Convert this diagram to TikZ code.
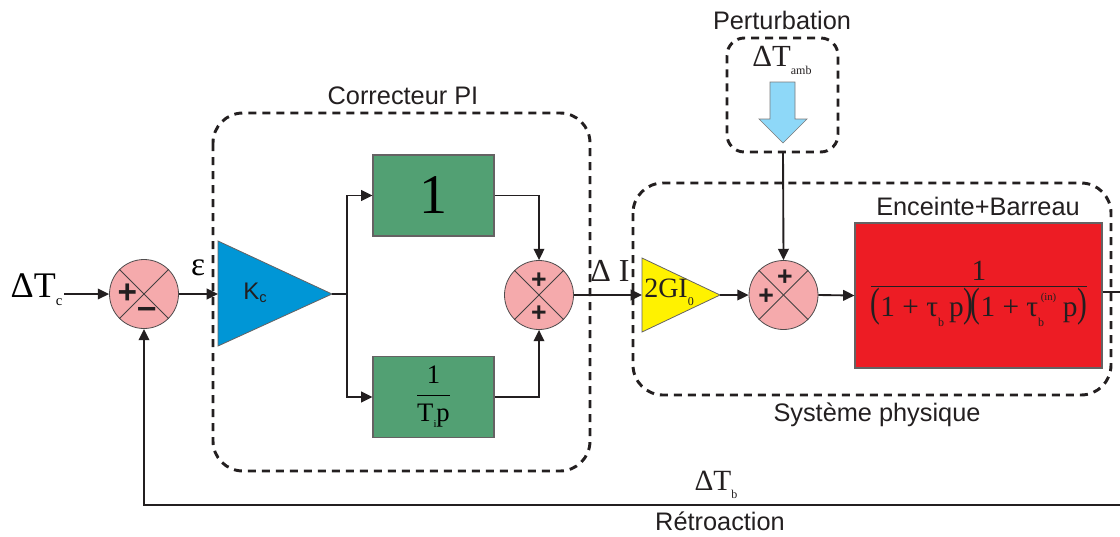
\documentclass[tikz,border=0pt]{standalone}
\usepackage{fontspec}
\usepackage{graphicx}
\setmainfont{Liberation Sans}
\newfontfamily\ser{Liberation Serif}
\usetikzlibrary{arrows.meta}
\definecolor{sumpink}{RGB}{245,170,172}
\definecolor{kblue}{RGB}{0,150,214}
\definecolor{pgreen}{RGB}{82,160,115}
\definecolor{ayellow}{RGB}{255,242,0}
\definecolor{pred}{RGB}{237,28,36}
\definecolor{lblue}{RGB}{142,216,248}
\definecolor{ink}{RGB}{35,31,32}
\newcommand\fs[1]{\fontsize{#1}{#1}\selectfont}
\newcommand\lowsub[3]{\raisebox{-#1}{\fs{#2}#3}}
\begin{document}
\begin{tikzpicture}[x=0.75pt,y=-0.75pt,
  conn/.style={line width=1.4pt, draw=ink},
  arr/.style={conn,-{Triangle[length=8.5pt,width=8pt]}},
  sumc/.style={circle,draw=ink!80,line width=0.6pt,fill=sumpink,minimum size=51.75pt,inner sep=0pt},
  dbox/.style={draw=ink,line width=2.2pt,dash pattern=on 6pt off 4.5pt},
  blk/.style={draw=ink!70,line width=0.8pt,inner sep=0pt},
  lab/.style={font=\fs{19}, text=ink},
  sgn/.style={font=\bfseries\fs{20}, text=ink, inner sep=0pt},
  xl/.style={draw=ink!85,line width=0.6pt}
]
\useasboundingbox (0,0) rectangle (1120,536);

% dashed groups
\draw[dbox,rounded corners=22.5pt] (213,113) rectangle (590,471);
\draw[dbox,rounded corners=22.5pt] (633,183) rectangle (1111,395);
\draw[dbox,rounded corners=13pt] (727,38) rectangle (838,152);

% labels
\node[lab] (lcor) at (403,96) {Correcteur PI};
\node[lab] (lper) at (782,20) {Perturbation};
\node[lab] (lenc) at (978,206) {Enceinte+Barreau};
\node[lab] (lsys) at (877,415) {Système physique};
\node[lab] (lret) at (720,521) {Rétroaction};

% sum junctions
\node[sumc] (s1) at (144,294) {};
\node[sumc] (s2) at (539,295) {};
\node[sumc] (s3) at (783.5,295) {};
\foreach \s in {s1,s2,s3}{
  \draw[xl] (\s.north west) -- (\s.south east);
  \draw[xl] (\s.north east) -- (\s.south west);
}
\node[sgn,font=\bfseries\fs{25}] (p1) at ([xshift=-12.5pt]s1.center) {+};
\node[sgn,font=\bfseries\fs{26}] (m1) at ([xshift=2pt,yshift=-14.5pt]s1.center) {–};
\node[sgn] (p2a) at ([yshift=11pt]s2.center) {+};
\node[sgn] (p2b) at ([yshift=-14pt]s2.center) {+};
\node[sgn] (p3a) at ([xshift=1pt,yshift=13pt]s3.center) {+};
\node[sgn] (p3b) at ([xshift=-13pt,yshift=-1pt]s3.center) {+};

% input
\node[font=\ser\fs{27},anchor=east,inner sep=1pt] (dtc) at (64,290) {ΔT\lowsub{6pt}{11}{c}};
\draw[arr] (dtc.east |- s1) -- (s1.west);
\node[font=\ser\fs{25}] (eps) at (198,268) {ε};

% Kc gain
\draw[fill=kblue,draw=ink!70,line width=0.6pt] (218,241) -- (332,294) -- (218,346) -- cycle;
\coordinate (kin) at (218,294);
\coordinate (kout) at (332,294);
\node[font=\fs{18},text=ink] (kc) at (255,293) {K\lowsub{2pt}{11}{c}};
\draw[arr] (s1.east) -- (kin);

% PI branches
\node[blk,fill=pgreen,minimum width=90.75pt,minimum height=60.75pt] (b1) at (433.5,195.5)
  {\ser\fs{42}1};
\node[blk,fill=pgreen,minimum width=90.75pt,minimum height=60.75pt] (b2) at (433.5,397)
  {\ser\fs{20}$\displaystyle\frac{\hbox{\ser\fs{20}1}}{\hbox{\ser\fs{20}T\lowsub{5pt}{8}{i}p}}$};
\coordinate (sp) at (347,294);
\draw[conn] (kout) -- (sp);
\draw[arr] (sp) |- (b1.west);
\draw[arr] (sp) |- (b2.west);
\draw[arr] (b1.east) -| (s2.north);
\draw[arr] (b2.east) -| (s2.south);

% 2GI0 gain
\draw[fill=ayellow,draw=ink!70,line width=0.6pt] (642,258) -- (720,295) -- (642,332) -- cycle;
\coordinate (gin) at (642,295);
\coordinate (gout) at (720,295);
\node[font=\ser\fs{21},text=ink,anchor=west,inner sep=0pt] (g0) at (644,292) {2GI\lowsub{6pt}{9}{0}};
\draw[arr] (s2.east) -- (gin);
\node[font=\ser\fs{24},text=ink] (dI) at (610,271) {Δ I};
\draw[arr] (gout) -- (s3.west);

% perturbation
\node[font=\ser\fs{23},text=ink] (dta) at (782,60) {ΔT\lowsub{6pt}{9}{amb}};
\draw[fill=lblue,draw=ink!60,line width=0.5pt] (770,82) -- (795,82) -- (795,119) -- (807,119)
  -- (783,143) -- (759,119) -- (770,119) -- cycle;
\coordinate (pb) at (783,152);
\draw[arr] (pb) -- (s3.north);

% plant
\node[blk,fill=pred,minimum width=185.25pt,minimum height=108.75pt] (rb) at (978.5,295.5) {};
\node[text=ink,inner sep=0pt] (tf) at (979,294)
  {$\displaystyle\frac{\hbox{\ser\fs{22}1}}{\hbox{\ser\fs{22}\scalebox{1}[1.4]{(}1 + τ\lowsub{7pt}{9}{b}\,p\scalebox{1}[1.4]{)}\kern-2pt\scalebox{1}[1.4]{(}1 + τ\rlap{\raisebox{12pt}{\fs{8}\kern2pt(in)}}\lowsub{7pt}{9}{b}\hspace{14pt}p\scalebox{1}[1.4]{)}}}$};
\draw[arr] (s3.east) -- (rb.west);
\coordinate (oR) at (1120,292);
\draw[conn] (rb.east |- oR) -- (oR);

% feedback
\coordinate (fR) at (1120,505);
\draw[arr] (fR) -| (s1.south);
\node[font=\ser\fs{22},text=ink] (dtb) at (716,485) {ΔT\lowsub{6pt}{9}{b}};
\end{tikzpicture}
\end{document}
